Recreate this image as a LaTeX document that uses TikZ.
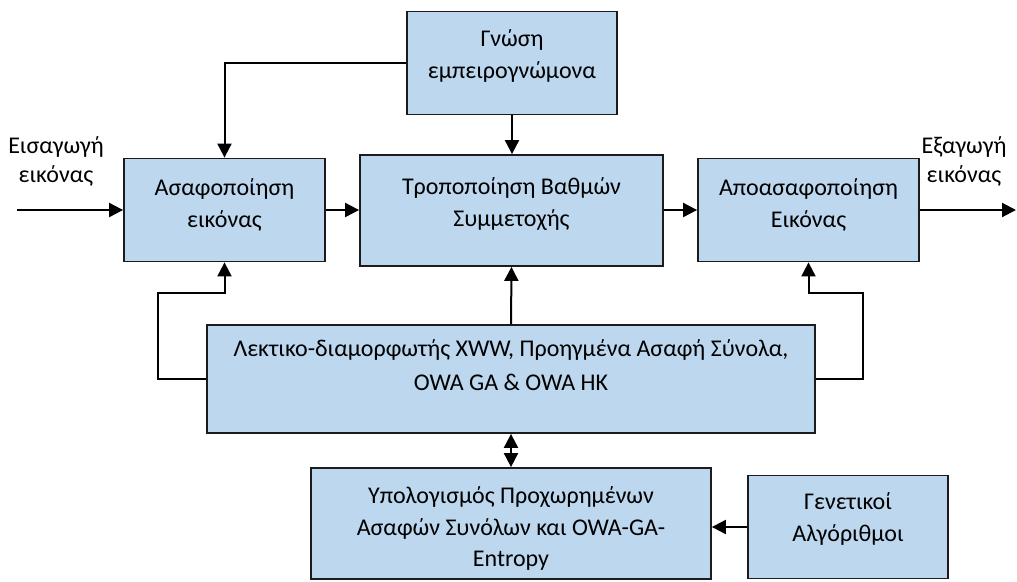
\documentclass[tikz,border=0pt]{standalone}
\usepackage{fontspec}
\setmainfont{Carlito}
\usetikzlibrary{arrows.meta,calc}
\definecolor{boxfill}{RGB}{189,215,238}
\definecolor{boxline}{RGB}{28,28,28}

\begin{document}
\begin{tikzpicture}[x=1pt,y=-1pt,
  blk/.style={draw=boxline, line width=1.8pt, fill=boxfill, inner sep=0pt},
  txt/.style={align=center, inner sep=0pt, anchor=north,
    font=\fontsize{24}{32}\selectfont},
  side/.style={align=center, inner sep=0pt, anchor=north,
    font=\fontsize{24}{29}\selectfont},
  link/.style={line width=2pt, -{Triangle[length=14pt,width=14pt]}},
  dlink/.style={line width=2pt,
    {Triangle[length=14pt,width=14pt]}-{Triangle[length=14pt,width=14pt]}},
]
\useasboundingbox (0,0) rectangle (1017,581);

% blocks
\node[blk, minimum width=210pt, minimum height=103pt] (gnosi) at (512,63) {};
\node[blk, minimum width=303pt, minimum height=111pt] (tropo) at (511.5,210.5) {};
\node[blk, minimum width=201pt, minimum height=103pt] (asafo) at (224.5,210) {};
\node[blk, minimum width=221pt, minimum height=103pt] (apo) at (808.5,210) {};
\node[blk, minimum width=608pt, minimum height=108pt] (lek) at (511,379) {};
\node[blk, minimum width=400pt, minimum height=111pt] (ypol) at (511,523.5) {};
\node[blk, minimum width=200pt, minimum height=103pt] (genet) at (848,527) {};

% block texts
\node[txt] (gnosiT) at (512,24.3) {\strut Γνώση\\εμπειρογνώμονα};
\node[txt] (tropoT) at (511.5,172) {\strut Τροποποίηση Βαθμών\\Συμμετοχής};
\node[txt] (asafoT) at (224.5,172.6) {\strut Ασαφοποίηση\\εικόνας};
\node[txt] (apoT) at (808.5,172.6) {\strut Αποασαφοποίηση\\Εικόνας};
\node[txt, font=\fontsize{24}{33.5}\selectfont] (lekT) at (511,333.2)
  {\strut Λεκτικο-διαμορφωτής XWW, Προηγμένα Ασαφή Σύνολα,\\OWA GA \& OWA HK};
\node[txt, font=\fontsize{24}{31.5}\selectfont] (ypolT) at (511,481.3)
  {\strut Υπολογισμός Προχωρημένων\\Ασαφών Συνόλων και OWA-GA-\\Entropy};
\node[txt] (genetT) at (848,487) {\strut Γενετικοί\\Αλγόριθμοι};

% input / output labels
\node[side] (inT) at (56,133) {\strut Εισαγωγή\\εικόνας};
\node[side] (outT) at (964,133) {\strut Εξαγωγή\\εικόνας};

% main chain
\coordinate (inL) at (17,210);
\coordinate (outR) at (1016,210);
\draw[link] (inL) -- (asafo.west);
\draw[link] (asafo.east) -- (asafo.east -| tropo.west);
\draw[link] (apo.west -| tropo.east) -- (apo.west);
\draw[link] (apo.east) -- (outR);

% expert knowledge
\draw[link] (gnosi.west) -| (asafo.north);
\draw[link] (gnosi.south) -- (gnosi.south |- tropo.north);

% feedback from the linguistic block
\coordinate (lk) at (158,293);
\coordinate (rk) at (863,293);
\draw[link] (lek.west) -| (lk) -| (asafo.south);
\draw[link] (lek.east) -| (rk) -| (apo.south);
\draw[link] (lek.north) -- (tropo.south);

% lower blocks
\draw[dlink] (lek.south) -- (ypol.north);
\draw[link] (genet.west) -- (genet.west -| ypol.east);
\end{tikzpicture}
\end{document}
